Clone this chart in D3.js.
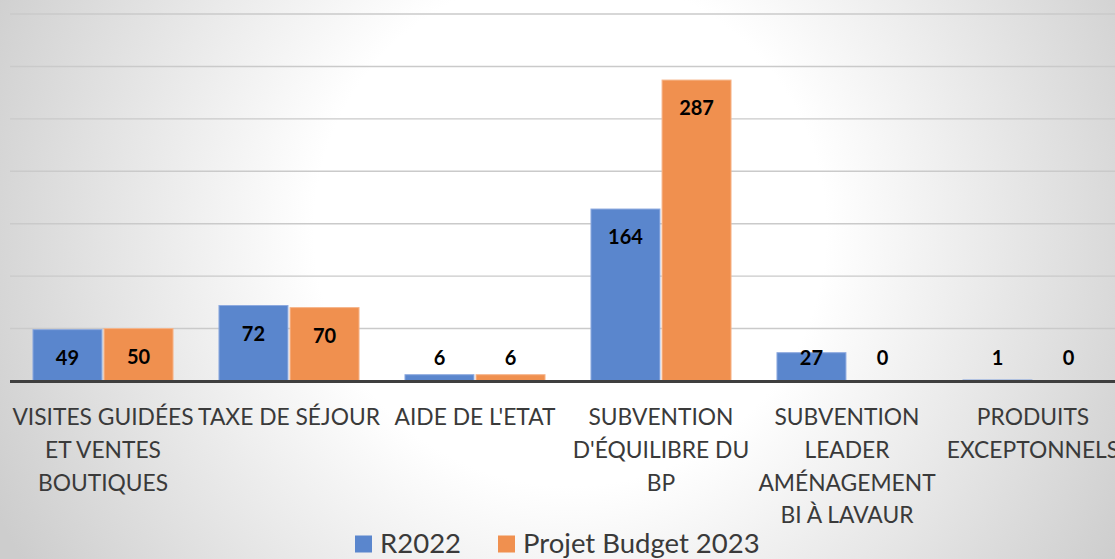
<!DOCTYPE html>
<html><head><meta charset="utf-8">
<script src="https://cdn.jsdelivr.net/npm/d3@7"></script>
<style>html,body{margin:0;padding:0;overflow:hidden;background:#fff}</style>
</head><body>
<svg id="c" width="1115" height="559"></svg>
<script>
const categories = [
  "VISITES GUIDÉES\nET VENTES\nBOUTIQUES",
  "TAXE DE SÉJOUR",
  "AIDE DE L'ETAT",
  "SUBVENTION\nD'ÉQUILIBRE DU\nBP",
  "SUBVENTION\nLEADER\nAMÉNAGEMENT\nBI À LAVAUR",
  "PRODUITS\nEXCEPTONNELS"
];
const seriesNames = ["R2022", "Projet Budget 2023"];
const r2022 = [49, 72, 6, 164, 27, 1];
const budget2023 = [50, 70, 6, 287, 0, 0];
const yTicks = [0, 50, 100, 150, 200, 250, 300, 350];

const colors = {"R2022": "#5a86cd", "Projet Budget 2023": "#f0904f"};
const strokes = {"R2022": "#8eaadf", "Projet Budget 2023": "#f6b48a"};
const font = "Lato, 'Open Sans', sans-serif";

const svg = d3.select("#c");
const defs = svg.append("defs");
const rg = defs.append("radialGradient").attr("id","bg")
  .attr("gradientUnits","userSpaceOnUse")
  .attr("cx",570).attr("cy",230).attr("r",640);
rg.append("stop").attr("offset","0").attr("stop-color","#ffffff");
rg.append("stop").attr("offset","0.4").attr("stop-color","#ffffff");
rg.append("stop").attr("offset","1").attr("stop-color","#cdcdcd");
svg.append("rect").attr("width",1115).attr("height",559).attr("fill","url(#bg)");

const x0 = d3.scaleBand().domain(categories).range([10, 1126])
  .paddingInner(0.247).paddingOuter(0.1235);
const x1 = d3.scaleBand().domain(seriesNames).range([0, x0.bandwidth()]).paddingInner(0.03);
const y = d3.scaleLinear().domain([0, 350]).range([381, 14]);

// gridlines
svg.append("g").selectAll("line").data(yTicks.slice(1)).join("line")
  .attr("x1", 10).attr("x2", 1115)
  .attr("y1", d => y(d)).attr("y2", d => y(d))
  .attr("stroke", "#cacaca").attr("stroke-width", 1.4);

const data = categories.map((c, i) => ({cat: c, vals: [
  {s: seriesNames[0], v: r2022[i]}, {s: seriesNames[1], v: budget2023[i]}]}));

const groups = svg.append("g").selectAll("g").data(data).join("g")
  .attr("transform", d => `translate(${x0(d.cat)},0)`);

groups.selectAll("rect").data(d => d.vals).join("rect")
  .attr("x", d => x1(d.s)).attr("width", x1.bandwidth())
  .attr("y", d => y(d.v)).attr("height", d => y(0) - y(d.v))
  .attr("fill", d => colors[d.s]).attr("stroke", d => strokes[d.s]).attr("stroke-width", 1);

// baseline axis
svg.append("line").attr("x1", 10).attr("x2", 1115)
  .attr("y1", y(0) + 0.5).attr("y2", y(0) + 0.5)
  .attr("stroke", "#3f3f3f").attr("stroke-width", 3);

// value labels
groups.selectAll("text.val").data(d => d.vals).join("text")
  .attr("class", "val")
  .attr("x", d => x1(d.s) + x1.bandwidth() / 2)
  .attr("y", d => Math.min(y(d.v) + 35, y(0) - 16.5))
  .attr("text-anchor", "middle")
  .attr("font-family", font).attr("font-weight", "bold").attr("font-size", 20)
  .attr("fill", "#000").text(d => d.v);

// category labels
const xa = svg.append("g");
categories.forEach(c => {
  const lines = c.split("\n");
  const t = xa.append("text").attr("text-anchor", "middle")
    .attr("font-family", font).attr("font-size", 22.8).attr("fill", "#3a3a3a");
  lines.forEach((ln, j) => {
    t.append("tspan").attr("x", x0(c) + x0.bandwidth() / 2).attr("y", 425 + j * 32.8).text(ln);
  });
});

// legend
const lg = svg.append("g");
const legX = [355, 498];
seriesNames.forEach((s, i) => {
  lg.append("rect").attr("x", legX[i]).attr("y", 535.5).attr("width", 17).attr("height", 17)
    .attr("fill", colors[s]);
  lg.append("text").attr("x", legX[i] + 25).attr("y", 553)
    .attr("font-family", font).attr("font-size", 27.5).attr("fill", "#3a3a3a").text(s);
});
</script>
</body></html>
